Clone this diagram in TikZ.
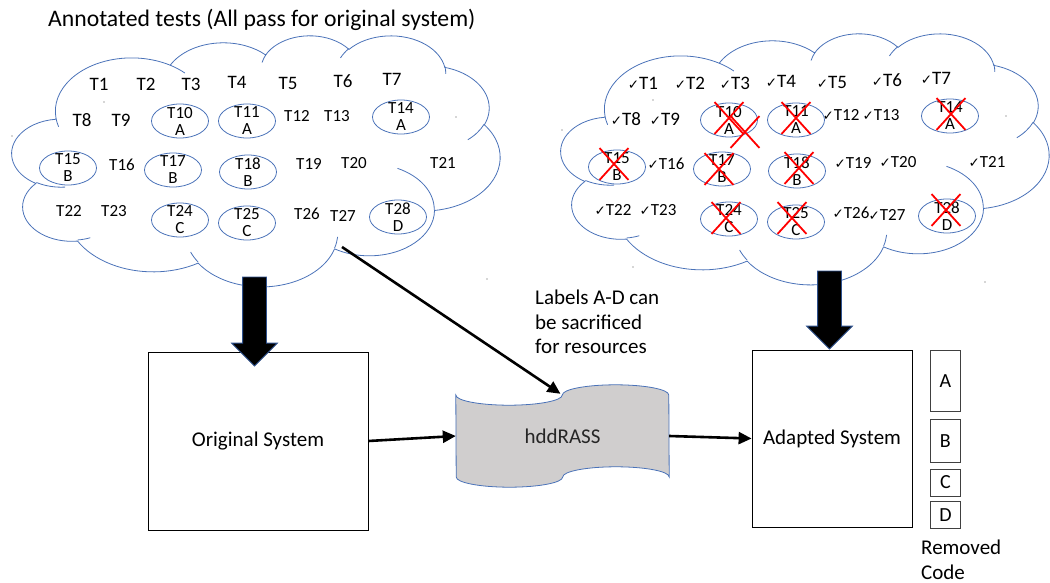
\documentclass[tikz,border=0pt]{standalone}
\usepackage{fontspec}
\setmainfont{Carlito}
\newfontfamily\hakenfont{DejaVu Sans}
\usetikzlibrary{positioning, shapes.geometric, shapes.arrows, shapes.misc, arrows.meta, calc}
\definecolor{wolkenblau}{HTML}{4A72B8}
\definecolor{bandgrau}{HTML}{D0CECE}
\definecolor{pfeilrand}{HTML}{2F528F}

% Haken vor bestandenen Tests
\newcommand\haken{{\hakenfont\fontsize{13.5}{13.5}\selectfont ✓}}
% sichtbare Winkel (wR, hR, Start, Spanne) -> Parameterwinkel fuer arc
\newcommand\wolkenbogen[4]{%
  \pgfmathsetmacro\bogenanfang{atan2((#1)*sin(#3),(#2)*cos(#3))}%
  \pgfmathsetmacro\bogenweite{mod(atan2((#1)*sin((#3)+(#4)),(#2)*cos((#3)+(#4)))-\bogenanfang+720,360)}%
  \global\let\bogenanfang\bogenanfang
  \global\let\bogenweite\bogenweite
}

\begin{document}
\begin{tikzpicture}[
    x=1pt, y=-1pt,
    wolkenlinie/.style={draw=wolkenblau, line width=0.8pt},
    testgross/.style={font=\fontsize{19}{19}\selectfont, inner sep=0pt},
    testklein/.style={font=\fontsize{17}{17}\selectfont, inner sep=0pt, align=center},
    testoval/.style={draw=wolkenblau, line width=0.8pt, ellipse, minimum width=57pt, minimum height=34pt, inner sep=0pt},
    kreuz/.style={cross out, draw=red, line width=1.8pt, minimum width=27pt, minimum height=30pt, inner sep=0pt},
    system/.style={draw=black, line width=0.8pt, rectangle, font=\fontsize{21}{21}\selectfont},
    codeblock/.style={draw=black!75, line width=0.8pt, rectangle, minimum width=30pt, font=\fontsize{20}{20}\selectfont, inner sep=0pt},
    edge/.style={line width=2.6pt, -{Triangle[length=13pt, width=12pt]}},
    blockpfeil/.style={single arrow, draw=pfeilrand, fill=black, line width=0.8pt, minimum width=45pt, single arrow head extend=11pt, rotate=-90, inner xsep=0pt, inner ysep=11.5pt},
    hinweis/.style={font=\fontsize{21}{24.5}\selectfont, align=left, inner sep=0pt},
    punkt/.style={fill=black!70, circle, inner sep=0pt, minimum size=1.3pt},
    wolke/.pic={
      \begin{scope}[x=1.1296pt, y=-0.581pt]
        \draw[wolkenlinie] (39.00,143.70)
          \foreach \rw/\rh/\sa/\sw in {67.53/91.90/-190.4875/123.7805, 53.33/72.67/-144.1024/89.9452,
              43.65/59.45/-145.8079/99.7230, 48.57/65.95/-130.9861/117.2417, 53.33/72.73/-78.7089/109.0269,
              67.75/92.20/-46.2673/130.2690, 57.85/78.67/0.6250/114.0333, 67.52/92.15/22.4516/115.1726,
              77.20/105.43/66.2426/75.7110, 43.60/59.18/-274.9421/146.7356, 43.45/59.45/-246.8285/152.5189}{
            \pgfextra{\wolkenbogen{\rw}{\rh}{\sa}{\sw}}
            arc[start angle=\bogenanfang, delta angle=\bogenweite, x radius=\rw, y radius=\rh]
          } -- cycle;
        % innere Boegen
        \draw[wolkenlinie]
          \foreach \px/\py/\rw/\rh/\sa/\sw in {46.93/261.77/43.45/59.45/86.7420/26.4295,
              69.28/348.99/43.60/59.18/73.6105/11.4475, 164.78/390.90/67.52/92.15/137.6242/14.0811,
              288.27/347.51/67.52/92.15/6.4533/15.9984, 341.29/229.54/57.85/78.67/-70.2924/70.9174,
              417.98/153.54/53.33/72.73/30.3180/27.7515, 383.24/54.26/48.57/65.95/-13.7443/14.8589,
              290.78/39.52/48.57/65.95/-149.1815/18.1954, 221.41/47.20/43.65/59.45/-163.4943/17.6864,
              140.00/51.92/67.53/91.90/-66.7070/12.3194, 41.27/157.89/67.53/91.90/157.6544/11.8582}{
            (\px,\py) \pgfextra{\wolkenbogen{\rw}{\rh}{\sa}{\sw}}
            arc[start angle=\bogenanfang, delta angle=\bogenweite, x radius=\rw, y radius=\rh]
          };
      \end{scope}
    }
]
\useasboundingbox (0,0) rectangle (1050,583);

% Wolken
\node[anchor=west, font=\fontsize{23.7}{23.7}\selectfont, inner sep=0pt] (titel) at (48,20) {Annotated tests (All pass for original system)};
\pic at (12,35) {wolke};
\pic at (561,33) {wolke};

% Tests, linke Wolke
\node[testgross] (l1) at (99,84) {T1};
\node[testgross] (l2) at (146,84) {T2};
\node[testgross] (l3) at (191,84) {T3};
\node[testgross] (l4) at (237,82) {T4};
\node[testgross] (l5) at (288,83) {T5};
\node[testgross] (l6) at (343,81) {T6};
\node[testgross] (l7) at (392,79) {T7};
\node[testgross] (l8) at (82,120) {T8};
\node[testgross] (l9) at (121,120) {T9};
\node[testklein] (l12) at (297,116) {T12};
\node[testklein] (l13) at (337,116) {T13};
\node[testklein] (l16) at (122,165) {T16};
\node[testklein] (l19) at (309,164) {T19};
\node[testklein] (l20) at (354,163) {T20};
\node[testklein] (l21) at (443,163) {T21};
\node[testklein] (l22) at (69,211) {T22};
\node[testklein] (l23) at (114,211) {T23};
\node[testklein] (l26) at (307,214) {T26};
\node[testklein] (l27) at (343,216) {T27};
\node[testoval] (lo10) at (180,121) {};
\node[testoval] (lo11) at (247,121) {};
\node[testoval] (lo14) at (401,117) {};
\node[testoval] (lo15) at (68,168) {};
\node[testoval] (lo17) at (173,170) {};
\node[testoval] (lo18) at (248,172) {};
\node[testoval] (lo24) at (180,220) {};
\node[testoval] (lo25) at (247,223) {};
\node[testoval] (lo28) at (398,217) {};
\node[testklein] (l10) at (lo10) {T10\\A};
\node[testklein] (l11) at (lo11) {T11\\A};
\node[testklein] (l14) at (lo14) {T14\\A};
\node[testklein] (l15) at (lo15) {T15\\B};
\node[testklein] (l17) at (lo17) {T17\\B};
\node[testklein] (l18) at (lo18) {T18\\B};
\node[testklein] (l24) at (lo24) {T24\\C};
\node[testklein] (l25) at (lo25) {T25\\C};
\node[testklein] (l28) at (lo28) {T28\\D};

% Tests, rechte Wolke
\node[testgross] (r1) at (643,83) {\haken T1};
\node[testgross] (r2) at (690,83) {\haken T2};
\node[testgross] (r3) at (735,83) {\haken T3};
\node[testgross] (r4) at (781,81) {\haken T4};
\node[testgross] (r5) at (832,82) {\haken T5};
\node[testgross] (r6) at (887,80) {\haken T6};
\node[testgross] (r7) at (936,78) {\haken T7};
\node[testgross] (r8) at (626,119) {\haken T8};
\node[testgross] (r9) at (665,119) {\haken T9};
\node[testklein] (r12) at (841,115) {\haken T12};
\node[testklein] (r13) at (881,115) {\haken T13};
\node[testklein] (r16) at (666,164) {\haken T16};
\node[testklein] (r19) at (853,163) {\haken T19};
\node[testklein] (r20) at (898,162) {\haken T20};
\node[testklein] (r21) at (987,162) {\haken T21};
\node[testklein] (r22) at (613,210) {\haken T22};
\node[testklein] (r23) at (658,210) {\haken T23};
\node[testklein] (r26) at (851,213) {\haken T26};
\node[testklein] (r27) at (887,215) {\haken T27};
\node[testoval] (ro10) at (729,120) {};
\node[testoval] (ro11) at (796,120) {};
\node[testoval] (ro14) at (950,116) {};
\node[testoval] (ro15) at (617,167) {};
\node[testoval] (ro17) at (722,169) {};
\node[testoval] (ro18) at (797,171) {};
\node[testoval] (ro24) at (729,219) {};
\node[testoval] (ro25) at (796,222) {};
\node[testoval] (ro28) at (947,216) {};
\node[testklein] (r10) at (ro10) {T10\\A};
\node[testklein] (r11) at (ro11) {T11\\A};
\node[testklein] (r14) at (ro14) {T14\\A};
\node[testklein] (r15) at (ro15) {T15\\B};
\node[testklein] (r17) at (ro17) {T17\\B};
\node[testklein] (r18) at (ro18) {T18\\B};
\node[testklein] (r24) at (ro24) {T24\\C};
\node[testklein] (r25) at (ro25) {T25\\C};
\node[testklein] (r28) at (ro28) {T28\\D};
\node[kreuz] (x10) at (729,118) {};
\node[kreuz] (x10b) at (745,132) {};
\node[kreuz] (x11) at (796,118) {};
\node[kreuz] (x14) at (951,114) {};
\node[kreuz] (x15) at (614,164) {};
\node[kreuz] (x17) at (719,169) {};
\node[kreuz] (x18) at (799,168) {};
\node[kreuz] (x24) at (726,218) {};
\node[kreuz] (x25) at (792,218) {};
\node[kreuz] (x28) at (946,210) {};

% einzelne Punkte
\node[punkt] (p1) at (12,136) {};
\node[punkt] (p2) at (104,102) {};
\node[punkt] (p3) at (456,117) {};
\node[punkt] (p4) at (487,279) {};
\node[punkt] (p5) at (653,100) {};
\node[punkt] (p6) at (1006,116) {};
\node[punkt] (p7) at (633,267) {};
\node[punkt] (p8) at (985,282) {};
\node[punkt] (p9) at (562,130) {};

% Systeme
\node[system, minimum width=220pt, minimum height=178pt] (orig) at (258,441) {Original System};
\node[system, minimum width=160pt, minimum height=177pt] (adapt) at (832,438.5) {Adapted System};
\node[minimum width=213pt, minimum height=102pt, inner sep=0pt] (hdd) at (562.5,436) {};
\draw[draw=wolkenblau, fill=bandgrau, line width=0.8pt] ($(hdd.north west)+(0,10.2)$)
  arc[start angle=180, end angle=0, x radius=53.25, y radius=10.2]
  arc[start angle=180, end angle=360, x radius=53.25, y radius=10.2]
  -- ($(hdd.south east)+(0,-10.2)$)
  arc[start angle=0, end angle=-180, x radius=53.25, y radius=10.2]
  arc[start angle=0, end angle=180, x radius=53.25, y radius=10.2]
  -- cycle;
\node[font=\fontsize{21}{21}\selectfont, text=black!85] (hddtext) at (hdd) {hddRASS};

% entfernter Code
\node[codeblock, minimum height=61pt, anchor=north west] (ca) at (930,350) {A};
\node[codeblock, minimum height=43pt, below=7pt of ca] (cb) {B};
\node[codeblock, minimum height=27pt, below=6pt of cb] (cc) {C};
\node[codeblock, minimum height=27pt, below=5pt of cc] (cd) {D};
\node[hinweis, anchor=west] (entfernt) at (921,560) {Removed\\Code};
\node[hinweis, anchor=west] (opfer) at (535,322) {Labels A-D can\\be sacrificed\\for resources};

% Pfeile
\node[blockpfeil, minimum height=89pt, anchor=tip] (bp1) at ($(orig.north)+(-3.5,15)$) {};
\node[blockpfeil, minimum height=78pt, anchor=tip] (bp2) at ($(adapt.north)+(-2.5,0)$) {};
\coordinate (wolkenrand) at (342,247);
\draw[edge] (wolkenrand) -- ($(hdd.north)+(-2,9)$);
\draw[edge] (orig.east) -- (hdd.west);
\draw[edge] (hdd.east) -- (adapt.west);

\end{tikzpicture}
\end{document}
